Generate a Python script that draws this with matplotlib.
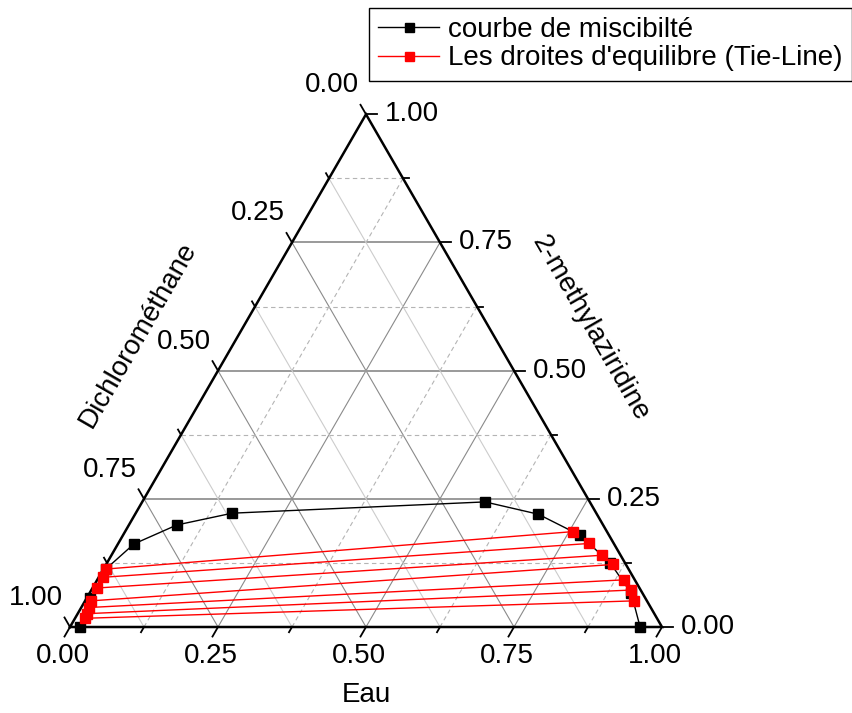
import numpy as np
import matplotlib
matplotlib.use("Agg")
import matplotlib.pyplot as plt

plt.rcParams['font.family'] = ['Liberation Sans', 'DejaVu Sans']

# ---- data (Eau, 2-methylaziridine fractions; Dichlorométhane = 1 - both) ----
curve_eau = [0.017, 0.006, 0.004, 0.027, 0.081, 0.163, 0.579, 0.681, 0.772, 0.850, 0.915, 0.963]
curve_methyl = [0.000, 0.057, 0.113, 0.162, 0.199, 0.222, 0.244, 0.220, 0.179, 0.125, 0.066, 0.000]

tie_left_eau = [0.004, 0.008, 0.007, 0.010, 0.013, 0.015, 0.017]
tie_left_methyl = [0.113, 0.097, 0.076, 0.051, 0.038, 0.026, 0.017]
tie_right_eau = [0.756, 0.796, 0.829, 0.857, 0.890, 0.911, 0.928]
tie_right_methyl = [0.186, 0.163, 0.140, 0.122, 0.092, 0.072, 0.051]

major_ticks = [0.0, 0.25, 0.5, 0.75, 1.0]
minor_ticks = [0.125, 0.375, 0.625, 0.875]
tick_labels = ["0.00", "0.25", "0.50", "0.75", "1.00"]

label_bottom = "Eau"
label_left = "Dichlorométhane"
label_right = "2-methylaziridine"
legend_curve = "courbe de miscibilté"
legend_tie = "Les droites d'equilibre (Tie-Line)"

S3 = np.sqrt(3) / 2


def cart(a, b):
    a = np.asarray(a, dtype=float)
    b = np.asarray(b, dtype=float)
    return a + b / 2.0, b * S3


W, H = 853, 713
PX = 592.0
X0, Y0 = 70.0, 86.0  # pixel position of bottom-left vertex (from left, from bottom)

fig = plt.figure(figsize=(W / 100, H / 100), dpi=100)
ax = fig.add_axes([0, 0, 1, 1])
ax.set_xlim(-X0 / PX, (W - X0) / PX)
ax.set_ylim(-Y0 / PX, (H - Y0) / PX)
ax.axis('off')

p = 1.0 / PX  # one pixel in data units

# ---- grid lines ----
for v in major_ticks[1:-1] + minor_ticks:
    major = v in major_ticks
    # Eau constant
    xa, ya = cart([v, v], [0, 1 - v])
    ax.plot(xa, ya, color='#8a8a8a' if major else '#b4b4b4', lw=0.8,
            ls='-' if major else (0, (4, 3)), zorder=1)
    # methyl constant (horizontal)
    xb, yb = cart([0, 1 - v], [v, v])
    ax.plot(xb, yb, color='#9a9a9a' if major else '#b4b4b4', lw=1.4 if major else 0.8,
            ls='-' if major else (0, (4, 3)), zorder=1)
    # dichloro constant
    xc, yc = cart([0, 1 - v], [1 - v, 0])
    ax.plot(xc, yc, color='#8a8a8a' if major else '#cccccc', lw=0.8, ls='-', zorder=1)

# ---- triangle ----
tx, ty = cart([0, 1, 0, 0], [0, 0, 1, 0])
ax.plot(tx, ty, color='black', lw=1.8, zorder=3, solid_joinstyle='miter')

# ---- ticks ----
dir_bottom = np.array([-0.5, -S3])
dir_right = np.array([1.0, 0.0])
dir_left = np.array([-0.5, S3])
for v in major_ticks + minor_ticks:
    L = (11 if v in major_ticks else 6) * p
    x, y = cart(v, 0)
    ax.plot([x, x + dir_bottom[0] * L], [y, y + dir_bottom[1] * L], color='black', lw=1.3, zorder=3)
    x, y = cart(1 - v, v)
    ax.plot([x, x + dir_right[0] * L], [y, y + dir_right[1] * L], color='black', lw=1.3, zorder=3)
    x, y = cart(0, 1 - v)
    ax.plot([x, x + dir_left[0] * L], [y, y + dir_left[1] * L], color='black', lw=1.3, zorder=3)

fs = 20
for v, lab in zip(major_ticks, tick_labels):
    x, y = cart(v, 0)
    ax.text(x - 7 * p, y - 29 * p, lab, ha='center', va='center', fontsize=fs)
    x, y = cart(1 - v, v)
    ax.text(x + 19 * p, y, lab, ha='left', va='center', fontsize=fs)
    x, y = cart(0, 1 - v)
    ax.text(x - 34 * p, y + 29 * p, lab, ha='center', va='center', fontsize=fs)

# ---- axis titles ----
ax.text(cart(0.5, 0)[0], cart(0.5, 0)[1] - 68 * p, label_bottom, ha='center', va='center', fontsize=fs)
ax.text((138 - X0) * p, (H - 335 - Y0) * p, label_left, ha='center', va='center',
        fontsize=fs, rotation=60, rotation_mode='anchor')
ax.text((590 - X0) * p, (H - 328 - Y0) * p, label_right, ha='center', va='center',
        fontsize=fs, rotation=-60, rotation_mode='anchor')

# ---- data ----
cx, cy = cart(curve_eau, curve_methyl)
h1, = ax.plot(cx, cy, color='black', lw=1.0, marker='s', ms=7.2, mfc='black', mec='black',
              zorder=4, label=legend_curve)

lx, ly = cart(tie_left_eau, tie_left_methyl)
rx, ry = cart(tie_right_eau, tie_right_methyl)
h2 = None
for i in range(len(lx)):
    h, = ax.plot([lx[i], rx[i]], [ly[i], ry[i]], color='red', lw=1.0, marker='s', ms=7.2,
                 mfc='red', mec='red', zorder=5, label=legend_tie if i == 0 else None)
    if h2 is None:
        h2 = h

leg = ax.legend(handles=[h1, h2], loc='upper right', bbox_to_anchor=(852 / W, 1 - 8 / H),
                bbox_transform=fig.transFigure, fontsize=fs, frameon=True, fancybox=False,
                edgecolor='black', framealpha=1, handlelength=2.2, handletextpad=0.32,
                labelspacing=0.08, borderpad=0.33, borderaxespad=0, markerscale=0.9)
leg.get_frame().set_linewidth(1.0)

fig.savefig('out.png', dpi=100)
